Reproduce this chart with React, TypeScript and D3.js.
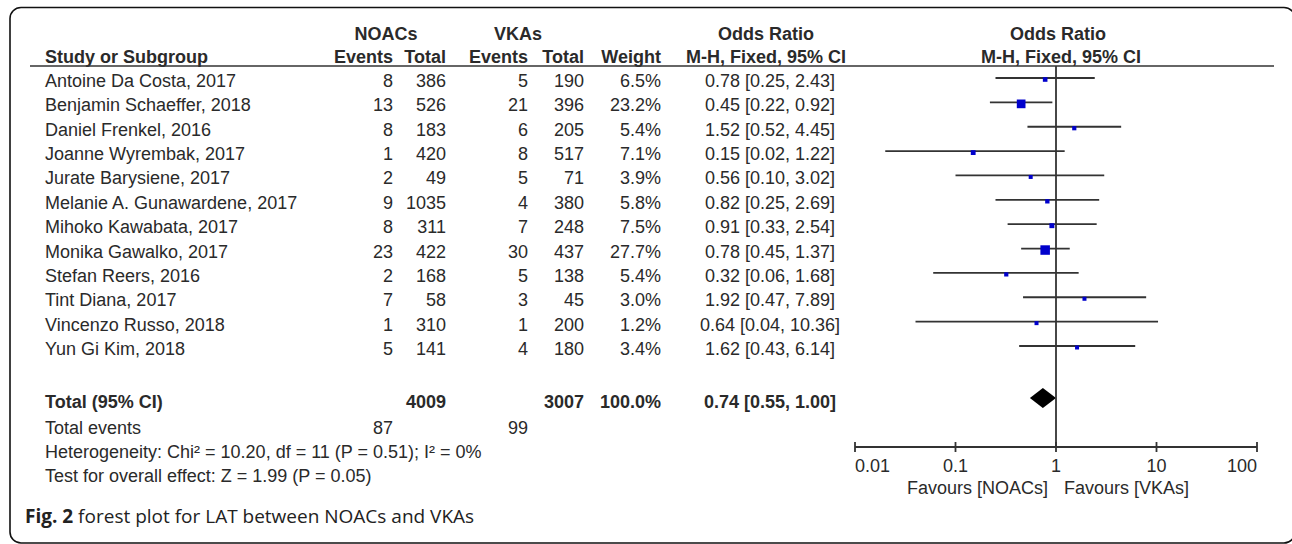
import React from 'react';
import * as d3 from 'd3';

const studies = [
  'Antoine Da Costa, 2017', 'Benjamin Schaeffer, 2018', 'Daniel Frenkel, 2016',
  'Joanne Wyrembak, 2017', 'Jurate Barysiene, 2017', 'Melanie A. Gunawardene, 2017',
  'Mihoko Kawabata, 2017', 'Monika Gawalko, 2017', 'Stefan Reers, 2016',
  'Tint Diana, 2017', 'Vincenzo Russo, 2018', 'Yun Gi Kim, 2018',
];
const noacEvents = [8, 13, 8, 1, 2, 9, 8, 23, 2, 7, 1, 5];
const noacTotal = [386, 526, 183, 420, 49, 1035, 311, 422, 168, 58, 310, 141];
const vkaEvents = [5, 21, 6, 8, 5, 4, 7, 30, 5, 3, 1, 4];
const vkaTotal = [190, 396, 205, 517, 71, 380, 248, 437, 138, 45, 200, 180];
const weights = [6.5, 23.2, 5.4, 7.1, 3.9, 5.8, 7.5, 27.7, 5.4, 3.0, 1.2, 3.4];
const orMid = [0.78, 0.45, 1.52, 0.15, 0.56, 0.82, 0.91, 0.78, 0.32, 1.92, 0.64, 1.62];
const orLow = [0.25, 0.22, 0.52, 0.02, 0.10, 0.25, 0.33, 0.45, 0.06, 0.47, 0.04, 0.43];
const orHigh = [2.43, 0.92, 4.45, 1.22, 3.02, 2.69, 2.54, 1.37, 1.68, 7.89, 10.36, 6.14];

const total = { noacTotal: 4009, vkaTotal: 3007, noacEvents: 87, vkaEvents: 99, weight: '100.0%', or: 0.74, lo: 0.55, hi: 1.0 };
const axisTicks = [0.01, 0.1, 1, 10, 100];
const axisLabels = ['0.01', '0.1', '1', '10', '100'];

const font = 'Liberation Sans, Arial, sans-serif';
const ink = '#2a2a2a';
const line = '#333';

const x = d3.scaleLog().domain([0.01, 100]).range([855, 1257]);
const rowY = d3.scaleLinear().domain([0, studies.length - 1]).range([87, 355]);
const side = d3.scaleSqrt().domain([0, d3.max(weights)]).range([0, 9.5]);

const fmt2 = d3.format('.2f');
const ciText = (m, l, h) => `${fmt2(m)} [${fmt2(l)}, ${fmt2(h)}]`;

const colEvN = 393, colTotN = 446, colEvV = 528, colTotV = 584, colW = 661, colCI = 770;
const totalBase = 408;
const axisY = 447;

export default function App() {
  const diamondY = totalBase - 10;
  const diamond = `M${x(total.lo)},${diamondY} L${x(total.or)},${diamondY - 10} L${x(total.hi)},${diamondY} L${x(total.or)},${diamondY + 10} Z`;
  return (
    <svg width={1292} height={544} style={{ position: 'absolute', left: 0, top: 0, background: '#fff' }}
      fontFamily={font} fontSize={18} fill={ink}>
      <rect x={10} y={7.5} width={1285} height={535.5} rx={11} fill="none" stroke="#111" strokeWidth={1.6} />

      {/* headers */}
      <g fontWeight="bold">
        <text x={386} y={40} textAnchor="middle">NOACs</text>
        <text x={518} y={40} textAnchor="middle">VKAs</text>
        <text x={766} y={40} textAnchor="middle">Odds Ratio</text>
        <text x={1058} y={40} textAnchor="middle">Odds Ratio</text>
        <text x={45} y={63}>Study or Subgroup</text>
        <text x={colEvN} y={63} textAnchor="end">Events</text>
        <text x={colTotN} y={63} textAnchor="end">Total</text>
        <text x={colEvV} y={63} textAnchor="end">Events</text>
        <text x={colTotV} y={63} textAnchor="end">Total</text>
        <text x={colW} y={63} textAnchor="end">Weight</text>
        <text x={766} y={63} textAnchor="middle">M-H, Fixed, 95% CI</text>
        <text x={1061} y={63} textAnchor="middle">M-H, Fixed, 95% CI</text>
      </g>
      <line x1={30} x2={1274} y1={66} y2={66} stroke={line} strokeWidth={1.6} />

      {/* study rows */}
      {studies.map((s, i) => {
        const yb = rowY(i);
        const ly = yb - 9;
        const sz = Math.max(4, side(weights[i]));
        return (
          <g key={s}>
            <text x={45} y={yb}>{s}</text>
            <text x={colEvN} y={yb} textAnchor="end">{noacEvents[i]}</text>
            <text x={colTotN} y={yb} textAnchor="end">{noacTotal[i]}</text>
            <text x={colEvV} y={yb} textAnchor="end">{vkaEvents[i]}</text>
            <text x={colTotV} y={yb} textAnchor="end">{vkaTotal[i]}</text>
            <text x={colW} y={yb} textAnchor="end">{weights[i].toFixed(1)}%</text>
            <text x={colCI} y={yb} textAnchor="middle">{ciText(orMid[i], orLow[i], orHigh[i])}</text>
            <line x1={x(orLow[i])} x2={x(orHigh[i])} y1={ly} y2={ly} stroke={line} strokeWidth={1.8} />
            <rect x={x(orMid[i]) - sz / 2} y={ly + 1.5 - sz / 2} width={sz} height={sz} fill="#0000cc" />
          </g>
        );
      })}

      {/* totals */}
      <g fontWeight="bold">
        <text x={45} y={totalBase}>Total (95% CI)</text>
        <text x={colTotN} y={totalBase} textAnchor="end">{total.noacTotal}</text>
        <text x={colTotV} y={totalBase} textAnchor="end">{total.vkaTotal}</text>
        <text x={colW} y={totalBase} textAnchor="end">{total.weight}</text>
        <text x={colCI} y={totalBase} textAnchor="middle">{ciText(total.or, total.lo, total.hi)}</text>
      </g>
      <path d={diamond} fill="#000" />
      <text x={45} y={434}>Total events</text>
      <text x={colEvN} y={434} textAnchor="end">{total.noacEvents}</text>
      <text x={colEvV} y={434} textAnchor="end">{total.vkaEvents}</text>
      <text x={45} y={458}>Heterogeneity: Chi² = 10.20, df = 11 (P = 0.51); I² = 0%</text>
      <text x={45} y={482}>Test for overall effect: Z = 1.99 (P = 0.05)</text>

      {/* null line and axis */}
      <line x1={x(1)} x2={x(1)} y1={66} y2={axisY} stroke={line} strokeWidth={1.8} />
      <line x1={x(0.01)} x2={x(100)} y1={axisY} y2={axisY} stroke={line} strokeWidth={1.8} />
      {axisTicks.map((t, i) => (
        <g key={t}>
          <line x1={x(t)} x2={x(t)} y1={axisY - 5} y2={axisY + 5} stroke={line} strokeWidth={1.8} />
          <text x={x(t)} y={472}
            textAnchor={i === 0 ? 'start' : i === axisTicks.length - 1 ? 'end' : 'middle'}>{axisLabels[i]}</text>
        </g>
      ))}
      <text x={x(1) - 8} y={494} textAnchor="end">Favours [NOACs]</text>
      <text x={x(1) + 8} y={494}>Favours [VKAs]</text>

      {/* caption */}
      <text x={25} y={523} fontFamily="Open Sans, Noto Sans, sans-serif" fontSize={19} fill="#222">
        <tspan fontWeight="bold">Fig. 2</tspan> forest plot for LAT between NOACs and VKAs
      </text>
    </svg>
  );
}
